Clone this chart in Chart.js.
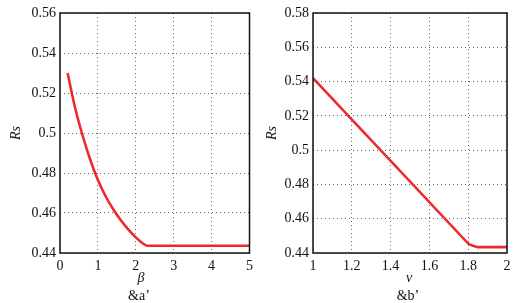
<!DOCTYPE html>
<html>
<head>
<meta charset="utf-8">
<script src="https://cdn.jsdelivr.net/npm/chart.js@4/dist/chart.umd.min.js"></script>
<style>
  html, body { margin: 0; padding: 0; background: #fff; }
  body { width: 516px; height: 303px; position: relative; overflow: hidden; font-family: "Liberation Serif", serif; }
  .panel { position: absolute; top: 0; width: 258px; height: 303px; }
  .cap { position: absolute; font-family: "Liberation Serif", serif; font-size: 14px; color: #111; line-height: 1; transform: translateX(-50%); white-space: nowrap; }
  .it { font-style: italic; }
</style>
</head>
<body>
<div class="panel" style="left:0"><canvas id="c1" width="258" height="303"></canvas></div>
<div class="panel" style="left:258px"><canvas id="c2" width="258" height="303"></canvas></div>
<div class="cap it" style="left:141px; top:271px;">β</div>
<div class="cap" style="left:139px; top:289px;">&amp;a’</div>
<div class="cap it" style="left:409px; top:271px;">v</div>
<div class="cap" style="left:408px; top:289px;">&amp;b’</div>
<script>
// ---- data ----
const betaValues = [0.2, 0.4, 0.6, 0.8, 1.0, 1.2, 1.4, 1.6, 1.8, 2.0, 2.2, 2.3, 3, 4, 5];
const rsVsBeta   = [0.530, 0.5125, 0.4985, 0.4865, 0.4765, 0.4685, 0.4620, 0.4565, 0.4518, 0.4478, 0.4446, 0.4436, 0.4436, 0.4436, 0.4436];
const vValues    = [1.0, 1.8, 1.82, 1.85, 2.0];
const rsVsV      = [0.542, 0.4455, 0.4443, 0.4434, 0.4434];
const xTicksA = [0, 1, 2, 3, 4, 5];
const yTicksA = [0.44, 0.46, 0.48, 0.50, 0.52, 0.54, 0.56];
const xTicksB = [1, 1.2, 1.4, 1.6, 1.8, 2];
const yTicksB = [0.44, 0.46, 0.48, 0.50, 0.52, 0.54, 0.56, 0.58];
const yTitle = 'Rs';

const RED = '#ec2a2a';
const FONT = { family: '"Liberation Serif", "Times New Roman", serif', size: 14 };
const fmt = v => String(+(+v).toFixed(2));

const framePlugin = {
  id: 'frame',
  afterDraw(chart) {
    const { ctx, chartArea: a } = chart;
    ctx.save();
    ctx.setLineDash([]);
    ctx.strokeStyle = '#111';
    ctx.lineWidth = 1.5;
    ctx.strokeRect(a.left, a.top, a.right - a.left, a.bottom - a.top);
    ctx.restore();
  }
};

function makeChart(id, xs, ys, xt, yt, yWidth, padRight, titlePad, smooth) {
  const pts = xs.map((x, i) => ({ x, y: ys[i] }));
  return new Chart(document.getElementById(id), {
    type: 'line',
    data: { datasets: [{ data: pts, borderColor: RED, borderWidth: 2.6, pointRadius: 0,
      fill: false, cubicInterpolationMode: smooth ? 'monotone' : 'default', tension: 0 }] },
    options: {
      responsive: false, animation: false, devicePixelRatio: 1,
      layout: { padding: { top: 13, right: padRight, left: 0, bottom: 0 } },
      plugins: { legend: { display: false }, tooltip: { enabled: false } },
      scales: {
        x: {
          type: 'linear', min: xt[0], max: xt[xt.length - 1],
          afterBuildTicks: s => { s.ticks = xt.map(v => ({ value: v })); },
          afterFit: s => { s.height = 50; },
          ticks: { font: FONT, color: '#111', padding: 5, maxRotation: 0, autoSkip: false, callback: fmt },
          grid: { color: '#666', lineWidth: 1, drawTicks: false },
          border: { display: false, dash: [1, 3] }
        },
        y: {
          type: 'linear', min: yt[0], max: yt[yt.length - 1],
          afterBuildTicks: s => { s.ticks = yt.map(v => ({ value: v })); },
          afterFit: s => { s.width = yWidth; },
          ticks: { font: FONT, color: '#111', padding: 4, autoSkip: false, callback: fmt },
          grid: { color: '#666', lineWidth: 1, drawTicks: false },
          border: { display: false, dash: [1, 3] },
          title: { display: true, text: yTitle, color: '#111',
            font: { family: FONT.family, size: 14, style: 'italic' }, padding: { top: titlePad, bottom: 0 } }
        }
      }
    },
    plugins: [framePlugin]
  });
}

makeChart('c1', betaValues, rsVsBeta, xTicksA, yTicksA, 60, 4, 8, true);
makeChart('c2', vValues, rsVsV, xTicksB, yTicksB, 55, 9, 6, false);
</script>
</body>
</html>
